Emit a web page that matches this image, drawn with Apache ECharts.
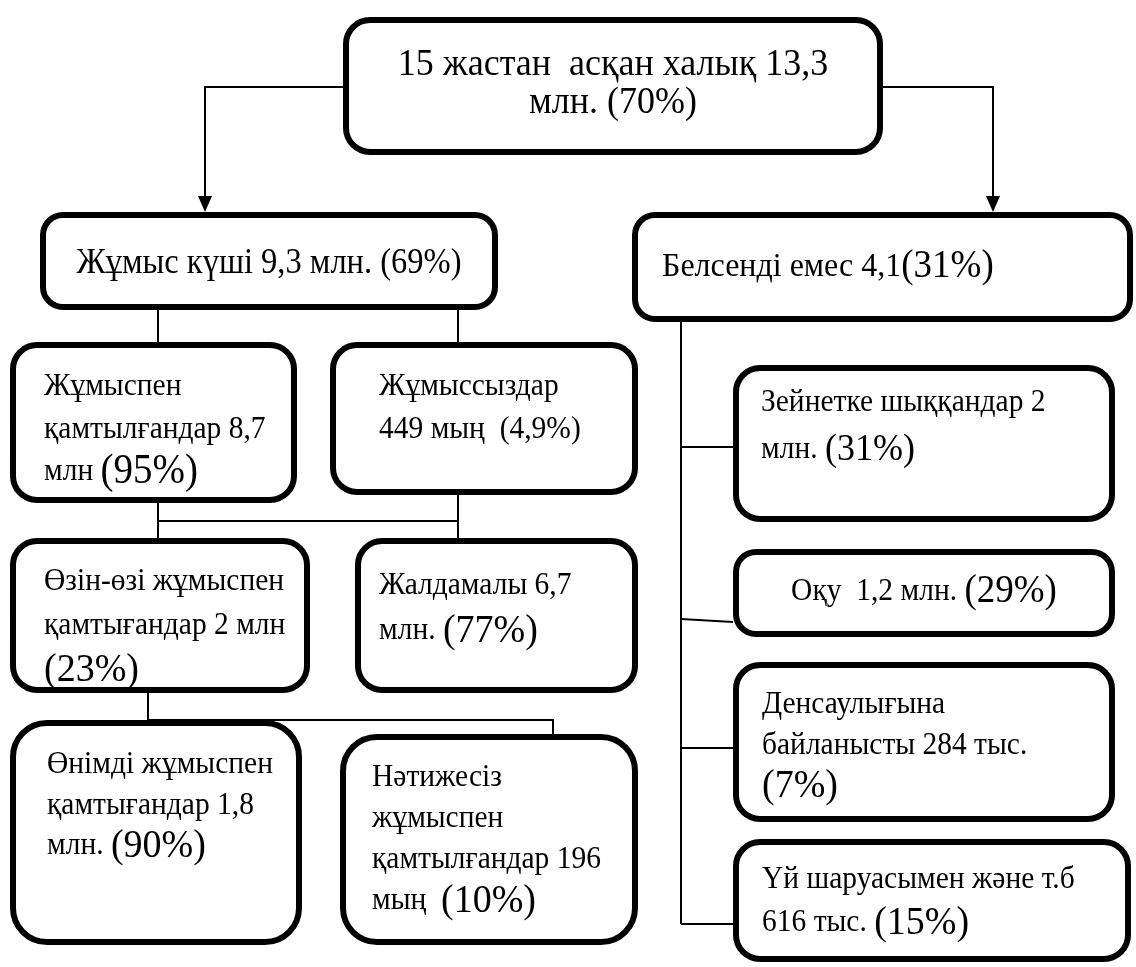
<!DOCTYPE html>
<html><head><meta charset="utf-8">
<script src="https://cdn.jsdelivr.net/npm/echarts@6/dist/echarts.min.js"></script>
<style>html,body{margin:0;padding:0;background:#fff}#c{width:1136px;height:967px}</style>
</head><body><div id="c"></div>
<script>
// Node texts ({p|..} marks the larger percentage figures)
const labels = [
  '15 жастан  асқан халық 13,3\nмлн. (70%)',
  'Жұмыс күші 9,3 млн. (69%)',
  'Белсенді емес 4,1{p|(31%)}',
  'Жұмыспен\nқамтылғандар 8,7\nмлн {p|(95%)}',
  'Жұмыссыздар\n449 мың  (4,9%)',
  'Өзін-өзі жұмыспен\nқамтығандар 2 млн\n{p|(23%)}',
  'Жалдамалы 6,7\nмлн. {p|(77%)}',
  'Өнімді жұмыспен\nқамтығандар 1,8\nмлн. {p|(90%)}',
  'Нәтижесіз\nжұмыспен\nқамтылғандар 196\nмың  {p|(10%)}',
  'Зейнетке шыққандар 2\nмлн. {p|(31%)}',
  'Оқу  1,2 млн. {p|(29%)}',
  'Денсаулығына\nбайланысты 284 тыс.\n{p|(7%)}',
  'Үй шаруасымен және т.б\n616 тыс. {p|(15%)}'
];

// Layout: box rectangles [x0, y0, x1, y1]
const boxes = [
  [343, 17, 883, 155],
  [40, 212, 498, 310],
  [632, 212, 1133, 322],
  [10, 342, 297, 503],
  [330, 342, 638, 495],
  [10, 538, 310, 693],
  [355, 538, 638, 693],
  [10, 720, 302, 945],
  [340, 734, 638, 945],
  [733, 365, 1115, 522],
  [733, 549, 1115, 637],
  [733, 662, 1115, 822],
  [733, 839, 1131, 962]
];
// Layout: text [x, first line centre y, line height, align, font size, pct size, corner radius]
const textLayout = [
  [613, 65, 38, 'center', 36, 36, 24],
  [269, 264, 40, 'center', 32.5, 32.5, 20],
  [662, 267, 40, 'left', 32, 37, 20],
  [44, 387, 42.5, 'left', 29.5, 39, 24],
  [379, 387, 43, 'left', 29.5, 29.5, 24],
  [44, 582, 44, 'left', 29.5, 38, 24],
  [379, 586, 45, 'left', 29.5, 38, 24],
  [47, 765, 40.5, 'left', 29.5, 38, 34],
  [372, 778, 41, 'left', 29.5, 38, 34],
  [761, 403, 47, 'left', 29.5, 36, 24],
  [924, 592, 40, 'center', 29.5, 37, 20],
  [762, 705, 40.5, 'left', 29.5, 38, 24],
  [762, 880, 43, 'left', 29.5, 38, 24]
];
// Connector polylines
const connectors = [
  [[343, 87], [205, 87], [205, 200]],
  [[883, 87], [993, 87], [993, 200]],
  [[158, 310], [158, 342]],
  [[458, 310], [458, 342]],
  [[158, 503], [158, 538]],
  [[458, 495], [458, 538]],
  [[158, 521], [458, 521]],
  [[148, 693], [148, 722]],
  [[148, 720], [553, 720], [553, 734]],
  [[681, 322], [681, 924]],
  [[681, 447], [733, 447]],
  [[681, 619], [733, 622]],
  [[681, 748], [733, 748]],
  [[681, 924], [733, 924]]
];
const arrowTips = [[205, 212], [993, 212]];

const FONT = '"Liberation Serif", "Times New Roman", serif';
const STRETCH = 1.08; // glyphs in the reference are slightly taller than wide
const chart = echarts.init(document.getElementById('c'), null, {renderer: 'canvas'});

chart.setOption({
  backgroundColor: '#fff',
  animation: false,
  grid: {left: 0, right: 0, top: 0, bottom: 0},
  xAxis: {type: 'value', min: 0, max: 1136, show: false},
  yAxis: {type: 'value', min: 0, max: 967, inverse: true, show: false},
  series: [
    {
      type: 'custom', z: 1, silent: true,
      data: connectors.map((c, i) => [c[0][0], c[0][1], i]),
      encode: {x: 0, y: 1},
      renderItem: function (params, api) {
        const c = connectors[api.value(2)];
        return {type: 'polyline', shape: {points: c.map(p => api.coord(p))},
          style: {stroke: '#000', lineWidth: 2, fill: null}};
      }
    },
    {
      type: 'custom', z: 2, silent: true,
      data: arrowTips.map(a => [a[0], a[1]]),
      encode: {x: 0, y: 1},
      renderItem: function (params, api) {
        const tip = api.coord([api.value(0), api.value(1)]);
        return {type: 'polygon', shape: {points: [[tip[0], tip[1]], [tip[0] - 7, tip[1] - 16], [tip[0] + 7, tip[1] - 16]]},
          style: {fill: '#000'}};
      }
    },
    {
      type: 'custom', z: 3, silent: true,
      data: boxes.map((b, i) => [b[0], b[1], b[2], b[3], i]),
      encode: {x: [0, 2], y: [1, 3]},
      renderItem: function (params, api) {
        const i = api.value(4);
        const p0 = api.coord([api.value(0), api.value(1)]);
        const p1 = api.coord([api.value(2), api.value(3)]);
        const t = textLayout[i];
        const tp = api.coord([t[0], t[1] - t[2] / 2]);
        const lh = t[2] / STRETCH;
        return {
          type: 'group',
          children: [
            {type: 'rect', shape: {x: p0[0] + 3, y: p0[1] + 3, width: p1[0] - p0[0] - 6, height: p1[1] - p0[1] - 6, r: t[6]},
              style: {fill: '#fff', stroke: '#000', lineWidth: 6}},
            {type: 'text', x: tp[0], y: tp[1], scaleX: 1, scaleY: STRETCH,
              style: {
                text: labels[i], x: 0, y: 0, align: t[3], verticalAlign: 'top',
                fontFamily: FONT, fontSize: t[4], lineHeight: lh, fill: '#000',
                rich: {p: {fontFamily: FONT, fontSize: t[5], lineHeight: lh, fill: '#000'}}
              }}
          ]
        };
      }
    }
  ]
});
</script>
</body></html>
